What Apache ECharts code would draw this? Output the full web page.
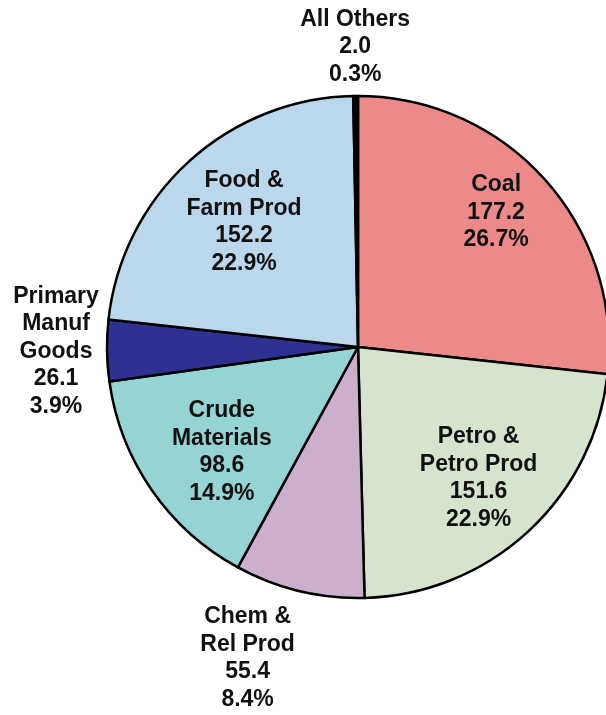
<!DOCTYPE html>
<html>
<head>
<meta charset="utf-8">
<script src="https://cdn.jsdelivr.net/npm/echarts@6/dist/echarts.min.js"></script>
<style>
html, body { margin: 0; padding: 0; background: #fff; }
#mybox { width: 606px; height: 715px; }
</style>
</head>
<body>
<div id="mybox"></div>
<script>
// data
var names = ['Coal', 'Petro &\nPetro Prod', 'Chem &\nRel Prod', 'Crude\nMaterials', 'Primary\nManuf\nGoods', 'Food &\nFarm Prod', 'All Others'];
var values = [177.2, 151.6, 55.4, 98.6, 26.1, 152.2, 2.0];
var shares = ['26.7%', '22.9%', '8.4%', '14.9%', '3.9%', '22.9%', '0.3%'];
var colors = ['#EC8A8A', '#D6E3CD', '#CBAFCB', '#96D4D3', '#2E3192', '#BBD7EC', '#000000'];

// label placement: distance from centre and small angle nudge
var labelRadius = [193, 178, 330, 172, 302, 169, 300];
var labelNudge = [-2.4, 0, 6, -3, 0, 0, 0];

var cx = 358, cy = 347, R = 251;

var total = 0;
values.forEach(function (v) { total += v; });
var midAngles = [];
var acc = 0;
values.forEach(function (v) {
    midAngles.push((acc + v / 2) / total * 360);
    acc += v;
});

var mycharts = echarts.init(document.getElementById('mybox'));

var pieData = [];
for (var i = 0; i < values.length; i++) {
    pieData.push({
        name: names[i],
        value: values[i],
        share: shares[i],
        itemStyle: { color: colors[i] }
    });
}

var optionObj = {
    animation: false,
    series: [
        {
            type: 'pie',
            center: [cx, cy],
            radius: [0, R],
            startAngle: 90,
            clockwise: true,
            avoidLabelOverlap: false,
            itemStyle: { borderColor: '#000', borderWidth: 2.5 },
            label: {
                show: true,
                position: 'inside',
                fontFamily: 'Liberation Sans, Arial, sans-serif',
                fontSize: 23,
                fontWeight: 'bold',
                lineHeight: 27.5,
                color: '#111',
                align: 'center',
                formatter: function (p) {
                    return p.name + '\n' + p.value.toFixed(1) + '\n' + p.data.share;
                }
            },
            labelLine: { show: false },
            labelLayout: function (p) {
                var a = (midAngles[p.dataIndex] + labelNudge[p.dataIndex]) * Math.PI / 180;
                var r = labelRadius[p.dataIndex];
                return {
                    x: cx + r * Math.sin(a),
                    y: cy - r * Math.cos(a),
                    align: 'center',
                    verticalAlign: 'middle'
                };
            },
            data: pieData
        }
    ]
};

mycharts.setOption(optionObj);
</script>
</body>
</html>
